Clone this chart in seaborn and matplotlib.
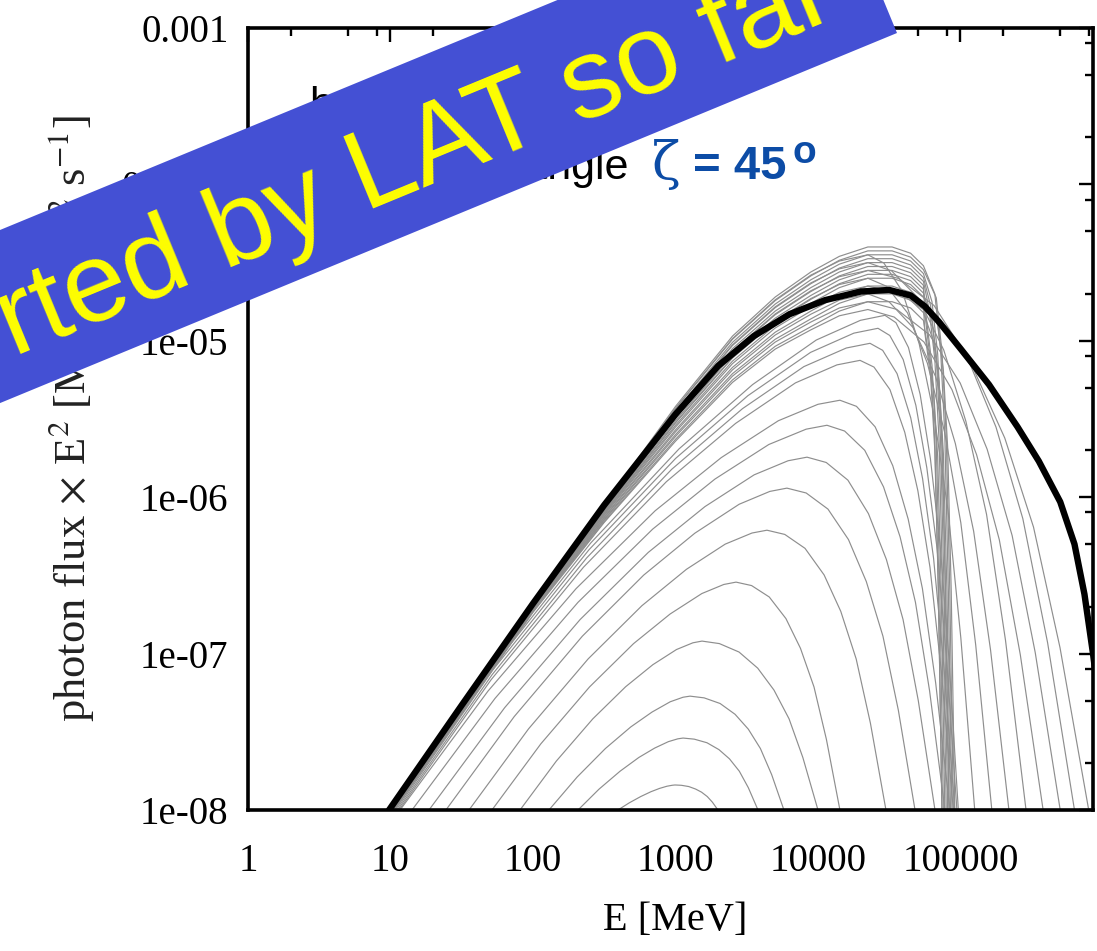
import numpy as np
import pandas as pd
import matplotlib
matplotlib.use("Agg")
import matplotlib.pyplot as plt
import seaborn as sns
from matplotlib.patches import Polygon
from matplotlib.ticker import FixedLocator, FixedFormatter, NullFormatter

# ---------------- data (in log10 units) ----------------
# thick black spectrum
BLACK_LOGE = [0.99, 1.5, 2.0, 2.5, 3.0, 3.3, 3.55, 3.8, 4.05, 4.3, 4.5, 4.65, 4.75,
              4.85, 5.0, 5.2, 5.4, 5.55, 5.7, 5.8, 5.87, 5.93, 6.0]
BLACK_LOGF = [-8.0, -7.33, -6.68, -6.05, -5.47, -5.16, -4.97, -4.83, -4.74, -4.685, -4.675,
              -4.71, -4.78, -4.88, -5.05, -5.28, -5.55, -5.77, -6.03, -6.30, -6.62, -7.0, -7.5]

# lower family of grey arcs
ARC_LOGE = [
    [2.596, 2.676, 2.756, 2.828, 2.888, 2.940, 2.976, 2.996, 3.041, 3.093, 3.141, 3.183, 3.223, 3.259, 3.298],
    [2.316, 2.463, 2.611, 2.743, 2.854, 2.950, 3.016, 3.053, 3.132, 3.221, 3.305, 3.379, 3.448, 3.511, 3.579],
    [2.112, 2.310, 2.508, 2.686, 2.835, 2.963, 3.053, 3.102, 3.201, 3.313, 3.418, 3.511, 3.596, 3.675, 3.761],
    [1.909, 2.164, 2.420, 2.650, 2.841, 3.007, 3.122, 3.186, 3.308, 3.446, 3.577, 3.691, 3.797, 3.894, 4.000],
    [1.712, 2.055, 2.397, 2.706, 2.962, 3.185, 3.339, 3.425, 3.534, 3.658, 3.775, 3.877, 3.972, 4.059, 4.154],
    [1.551, 1.969, 2.387, 2.764, 3.077, 3.349, 3.537, 3.642, 3.767, 3.909, 4.043, 4.160, 4.268, 4.368, 4.477],
    [1.389, 1.868, 2.346, 2.777, 3.136, 3.447, 3.662, 3.782, 3.917, 4.070, 4.214, 4.339, 4.456, 4.564, 4.681],
    [1.270, 1.801, 2.331, 2.809, 3.207, 3.552, 3.790, 3.923, 4.058, 4.210, 4.354, 4.480, 4.597, 4.704, 4.821],
    [1.151, 1.733, 2.316, 2.840, 3.277, 3.655, 3.917, 4.063, 4.187, 4.328, 4.460, 4.576, 4.684, 4.783, 4.891],
    [1.067, 1.684, 2.302, 2.857, 3.321, 3.722, 4.000, 4.154, 4.270, 4.401, 4.525, 4.633, 4.733, 4.826, 4.926],
    [1.060, 1.707, 2.354, 2.936, 3.422, 3.842, 4.133, 4.295, 4.393, 4.505, 4.609, 4.701, 4.786, 4.865, 4.950],
    [1.050, 1.713, 2.376, 2.973, 3.470, 3.901, 4.199, 4.365, 4.454, 4.555, 4.651, 4.734, 4.811, 4.883, 4.960],
    [1.040, 1.716, 2.392, 3.001, 3.508, 3.948, 4.252, 4.421, 4.504, 4.598, 4.687, 4.764, 4.837, 4.903, 4.975],
    [1.030, 1.718, 2.406, 3.025, 3.541, 3.988, 4.298, 4.470, 4.547, 4.635, 4.717, 4.789, 4.856, 4.918, 4.985],
]
ARC_LOGF = [
    [-8, -7.954, -7.914, -7.883, -7.862, -7.848, -7.842, -7.840, -7.842, -7.850, -7.866, -7.886, -7.914, -7.950, -8],
    [-8, -7.867, -7.752, -7.664, -7.604, -7.563, -7.545, -7.540, -7.547, -7.570, -7.614, -7.673, -7.752, -7.857, -8],
    [-8, -7.789, -7.607, -7.469, -7.374, -7.308, -7.279, -7.272, -7.283, -7.319, -7.388, -7.483, -7.607, -7.774, -8],
    [-8, -7.687, -7.417, -7.212, -7.071, -6.974, -6.931, -6.920, -6.936, -6.990, -7.093, -7.233, -7.417, -7.665, -8],
    [-8, -7.577, -7.213, -6.936, -6.747, -6.616, -6.558, -6.543, -6.565, -6.638, -6.776, -6.966, -7.213, -7.548, -8],
    [-8, -7.481, -7.034, -6.694, -6.461, -6.300, -6.229, -6.211, -6.238, -6.327, -6.497, -6.730, -7.034, -7.445, -8],
    [-8, -7.403, -6.889, -6.498, -6.230, -6.045, -5.963, -5.942, -5.973, -6.076, -6.271, -6.539, -6.889, -7.362, -8],
    [-8, -7.346, -6.782, -6.353, -6.060, -5.857, -5.767, -5.744, -5.778, -5.891, -6.105, -6.398, -6.782, -7.301, -8],
    [-8, -7.287, -6.672, -6.204, -5.884, -5.663, -5.565, -5.540, -5.577, -5.700, -5.934, -6.253, -6.672, -7.237, -8],
    [-8, -7.240, -6.585, -6.087, -5.747, -5.511, -5.406, -5.380, -5.419, -5.550, -5.799, -6.140, -6.585, -7.188, -8],
    [-8, -7.166, -6.448, -5.901, -5.528, -5.269, -5.154, -5.125, -5.168, -5.312, -5.585, -5.959, -6.448, -7.109, -8],
    [-8, -7.135, -6.389, -5.822, -5.434, -5.165, -5.046, -5.016, -5.061, -5.210, -5.493, -5.881, -6.389, -7.075, -8],
    [-8, -7.107, -6.337, -5.752, -5.351, -5.074, -4.951, -4.920, -4.966, -5.120, -5.413, -5.813, -6.337, -7.045, -8],
    [-8, -7.083, -6.292, -5.691, -5.280, -4.995, -4.869, -4.837, -4.884, -5.043, -5.343, -5.754, -6.292, -7.019, -8],
]

# dome curves that drop steeply near 100 GeV (the grey "wall")
WALL_LOGE = [
    [0.985, 2.0, 2.5, 3.0, 3.4, 3.7, 3.95, 4.15, 4.35, 4.52, 4.65, 4.74, 4.82, 4.86, 4.89, 4.915, 4.94],
    [0.990, 2.0, 2.5, 3.0, 3.4, 3.7, 3.95, 4.15, 4.35, 4.52, 4.65, 4.74, 4.80, 4.84, 4.87, 4.895, 4.92],
    [0.996, 2.0, 2.5, 3.0, 3.4, 3.7, 3.95, 4.15, 4.35, 4.52, 4.65, 4.74, 4.78, 4.82, 4.85, 4.875, 4.90],
    [1.002, 2.0, 2.5, 3.0, 3.4, 3.7, 3.95, 4.15, 4.35, 4.52, 4.65, 4.74, 4.76, 4.80, 4.83, 4.855, 4.88],
    [1.008, 2.0, 2.5, 3.0, 3.4, 3.7, 3.95, 4.15, 4.35, 4.52, 4.65, 4.74, 4.84, 4.88, 4.91, 4.935, 4.96],
    [1.013, 2.0, 2.5, 3.0, 3.4, 3.7, 3.95, 4.15, 4.35, 4.52, 4.65, 4.74, 4.75, 4.79, 4.82, 4.845, 4.87],
    [1.019, 2.0, 2.5, 3.0, 3.4, 3.7, 3.95, 4.15, 4.35, 4.52, 4.65, 4.74, 4.81, 4.85, 4.88, 4.905, 4.93],
    [1.025, 2.0, 2.5, 3.0, 3.4, 3.7, 3.95, 4.15, 4.35, 4.52, 4.65, 4.74, 4.77, 4.81, 4.84, 4.865, 4.89],
    [0.988, 2.0, 2.5, 3.0, 3.4, 3.7, 3.95, 4.15, 4.35, 4.52, 4.65, 4.74, 4.83, 4.87, 4.90, 4.925, 4.95],
    [0.993, 2.0, 2.5, 3.0, 3.4, 3.7, 3.95, 4.15, 4.35, 4.52, 4.65, 4.74, 4.79, 4.83, 4.86, 4.885, 4.91],
    [0.999, 2.0, 2.5, 3.0, 3.4, 3.7, 3.95, 4.15, 4.35, 4.52, 4.65, 4.74, 4.75, 4.79, 4.82, 4.845, 4.87],
    [1.005, 2.0, 2.5, 3.0, 3.4, 3.7, 3.95, 4.15, 4.35, 4.52, 4.65, 4.74, 4.80, 4.84, 4.87, 4.895, 4.92],
]
WALL_LOGF = [
    [-8, -6.680, -6.050, -5.420, -4.970, -4.720, -4.560, -4.460, -4.400, -4.400, -4.440, -4.520, -4.700, -5.050, -5.600, -6.6, -8],
    [-8, -6.688, -6.065, -5.450, -5.010, -4.765, -4.610, -4.510, -4.450, -4.450, -4.490, -4.570, -4.750, -5.085, -5.620, -6.6, -8],
    [-8, -6.695, -6.080, -5.480, -5.050, -4.810, -4.660, -4.560, -4.500, -4.500, -4.540, -4.620, -4.800, -5.120, -5.640, -6.6, -8],
    [-8, -6.703, -6.095, -5.510, -5.090, -4.855, -4.710, -4.610, -4.550, -4.550, -4.590, -4.670, -4.850, -5.155, -5.660, -6.6, -8],
    [-8, -6.710, -6.110, -5.540, -5.130, -4.900, -4.760, -4.660, -4.600, -4.600, -4.640, -4.720, -4.900, -5.190, -5.680, -6.6, -8],
    [-8, -6.718, -6.125, -5.570, -5.170, -4.945, -4.810, -4.710, -4.650, -4.650, -4.690, -4.770, -4.950, -5.225, -5.700, -6.6, -8],
    [-8, -6.725, -6.140, -5.600, -5.210, -4.990, -4.860, -4.760, -4.700, -4.700, -4.740, -4.820, -5.000, -5.260, -5.720, -6.6, -8],
    [-8, -6.733, -6.155, -5.630, -5.250, -5.035, -4.910, -4.810, -4.750, -4.750, -4.790, -4.870, -5.050, -5.295, -5.740, -6.6, -8],
    [-8, -6.684, -6.058, -5.435, -4.990, -4.743, -4.585, -4.485, -4.425, -4.425, -4.465, -4.545, -4.725, -5.068, -5.610, -6.6, -8],
    [-8, -6.691, -6.073, -5.465, -5.030, -4.788, -4.635, -4.535, -4.475, -4.475, -4.515, -4.595, -4.775, -5.103, -5.630, -6.6, -8],
    [-8, -6.699, -6.088, -5.495, -5.070, -4.833, -4.685, -4.585, -4.525, -4.525, -4.565, -4.645, -4.825, -5.138, -5.650, -6.6, -8],
    [-8, -6.706, -6.103, -5.525, -5.110, -4.878, -4.735, -4.635, -4.575, -4.575, -4.615, -4.695, -4.875, -5.173, -5.670, -6.6, -8],
]

# dome curves that fall off more gradually (between the wall and the black curve)
TAIL_LOGE = [
    [0.988, 2.0, 2.5, 3.0, 3.4, 3.7, 3.95, 4.15, 4.35, 4.4625, 4.590, 4.710, 4.815, 4.9125, 5.0025, 5.10],
    [0.993, 2.0, 2.5, 3.0, 3.4, 3.7, 3.95, 4.15, 4.35, 4.517, 4.705, 4.883, 5.038, 5.183, 5.316, 5.46],
    [0.999, 2.0, 2.5, 3.0, 3.4, 3.7, 3.95, 4.15, 4.35, 4.5675, 4.814, 5.046, 5.249, 5.4375, 5.6115, 5.80],
    [1.004, 2.0, 2.5, 3.0, 3.4, 3.7, 3.95, 4.15, 4.35, 4.4805, 4.628, 4.768, 4.889, 5.0025, 5.107, 5.22],
    [1.010, 2.0, 2.5, 3.0, 3.4, 3.7, 3.95, 4.15, 4.35, 4.5825, 4.846, 5.094, 5.311, 5.5125, 5.6985, 5.90],
    [1.016, 2.0, 2.5, 3.0, 3.4, 3.7, 3.95, 4.15, 4.35, 4.4985, 4.667, 4.825, 4.964, 5.0925, 5.211, 5.34],
    [1.021, 2.0, 2.5, 3.0, 3.4, 3.7, 3.95, 4.15, 4.35, 4.5525, 4.782, 4.998, 5.187, 5.3625, 5.5245, 5.70],
    [1.027, 2.0, 2.5, 3.0, 3.4, 3.7, 3.95, 4.15, 4.35, 4.5345, 4.744, 4.940, 5.113, 5.2725, 5.420, 5.58],
]
TAIL_LOGF = [
    [-8, -6.683, -6.056, -5.432, -4.986, -4.738, -4.580, -4.490, -4.450, -4.503, -4.681, -5.018, -5.480, -6.083, -6.900, -8],
    [-8, -6.691, -6.071, -5.462, -5.026, -4.783, -4.630, -4.540, -4.500, -4.553, -4.728, -5.060, -5.515, -6.110, -6.915, -8],
    [-8, -6.698, -6.086, -5.492, -5.066, -4.828, -4.680, -4.590, -4.550, -4.602, -4.774, -5.102, -5.551, -6.137, -6.931, -8],
    [-8, -6.706, -6.101, -5.522, -5.106, -4.873, -4.730, -4.640, -4.600, -4.651, -4.821, -5.144, -5.586, -6.164, -6.946, -8],
    [-8, -6.713, -6.116, -5.552, -5.146, -4.918, -4.780, -4.690, -4.650, -4.700, -4.868, -5.186, -5.622, -6.191, -6.962, -8],
    [-8, -6.721, -6.131, -5.582, -5.186, -4.963, -4.830, -4.740, -4.700, -4.750, -4.915, -5.228, -5.657, -6.218, -6.977, -8],
    [-8, -6.728, -6.146, -5.612, -5.226, -5.008, -4.880, -4.790, -4.750, -4.799, -4.961, -5.270, -5.693, -6.245, -6.993, -8],
    [-8, -6.736, -6.161, -5.642, -5.266, -5.053, -4.930, -4.840, -4.800, -4.848, -5.008, -5.312, -5.728, -6.272, -7.008, -8],
]

X_TICKS = [1, 10, 100, 1000, 10000, 100000]
X_TICK_LABELS = ["1", "10", "100", "1000", "10000", "100000"]
Y_TICKS = [1e-8, 1e-7, 1e-6, 1e-5, 1e-4, 1e-3]
Y_TICK_LABELS = ["1e-08", "1e-07", "1e-06", "1e-05", "0.0001", "0.001"]
MINOR_SUBS = [2, 5, 8]

X_LABEL = "E [MeV]"
Y_LABEL = r"photon flux $\times$ E$^{2}$ [MeV cm$^{-2}$ s$^{-1}$]"
NOTE_LINE1 = "b"
NOTE_LINE2 = "viewing angle"
NOTE_ZETA = "ζ"
NOTE_VALUE = "= 45"
NOTE_DEG = "o"
BANNER_TEXT = "rted by LAT so far"

# ---------------- long table for seaborn ----------------
rows = []
for fam, EE, FF in (("arc", ARC_LOGE, ARC_LOGF), ("wall", WALL_LOGE, WALL_LOGF),
                    ("tail", TAIL_LOGE, TAIL_LOGF)):
    for i, (le, lf) in enumerate(zip(EE, FF)):
        for a, b in zip(le, lf):
            rows.append({"curve": f"{fam}{i}", "E": 10.0 ** a, "F": 10.0 ** b})
grey = pd.DataFrame(rows)
black = pd.DataFrame({"E": 10.0 ** np.array(BLACK_LOGE), "F": 10.0 ** np.array(BLACK_LOGF)})

# ---------------- figure ----------------
sns.set_theme(style="white")
plt.rcParams["font.family"] = ["Liberation Serif", "DejaVu Serif"]
plt.rcParams["mathtext.fontset"] = "stix"

W, H = 1097, 951
fig = plt.figure(figsize=(W / 100, H / 100), dpi=100)
fig.patch.set_facecolor("white")
ax = fig.add_axes([248 / W, 141 / H, 845 / W, 782 / H])
ax.set_facecolor("white")
ax.set_xscale("log")
ax.set_yscale("log")

sns.lineplot(data=grey, x="E", y="F", units="curve", estimator=None, sort=False,
             color="#8e8e8e", linewidth=0.85, ax=ax, zorder=2)
sns.lineplot(data=black, x="E", y="F", estimator=None, sort=False,
             color="black", linewidth=4.6, ax=ax, zorder=3)

ax.set_xlim(1, 10 ** 5.93)
ax.set_ylim(1e-8, 1e-3)

ax.xaxis.set_major_locator(FixedLocator(X_TICKS))
ax.xaxis.set_major_formatter(FixedFormatter(X_TICK_LABELS))
ax.yaxis.set_major_locator(FixedLocator(Y_TICKS))
ax.yaxis.set_major_formatter(FixedFormatter(Y_TICK_LABELS))
xmin = [m * 10.0 ** d for d in range(0, 6) for m in MINOR_SUBS]
ymin = [m * 10.0 ** d for d in range(-8, -3) for m in MINOR_SUBS]
ax.xaxis.set_minor_locator(FixedLocator(xmin))
ax.yaxis.set_minor_locator(FixedLocator(ymin))
ax.xaxis.set_minor_formatter(NullFormatter())
ax.yaxis.set_minor_formatter(NullFormatter())

ax.tick_params(which="both", direction="in", top=True, right=True, width=1.7, color="black")
ax.tick_params(which="major", length=10)
ax.tick_params(which="minor", length=6)
ax.tick_params(axis="x", which="major", pad=24, labelsize=28, labelcolor="black")
ax.tick_params(axis="y", which="major", pad=14, labelsize=28, labelcolor="black")
for sp in ax.spines.values():
    sp.set_linewidth(2.6)
    sp.set_color("black")

ax.set_xlabel(X_LABEL, fontsize=29, color="black")
ax.xaxis.set_label_coords(0.505, -0.118)
ax.set_ylabel(Y_LABEL, fontsize=32, color="#222222")
ax.yaxis.set_label_coords(-0.18, 0.50)

# ---------------- annotation ----------------
BLUE = "#0c4ca6"
def fx(x):
    return x / W
def fy(y):
    return 1 - y / H

fig.text(fx(309), fy(117), NOTE_LINE1, fontsize=31, family="Liberation Sans",
         va="baseline", ha="left", color="black", zorder=5)
fig.text(fx(629), fy(179), NOTE_LINE2, fontsize=31, family="Liberation Sans",
         va="baseline", ha="right", color="black", zorder=5)
fig.text(fx(652), fy(179), NOTE_ZETA, fontsize=38, family="DejaVu Serif",
         va="baseline", ha="left", color=BLUE, zorder=5)
fig.text(fx(693), fy(179), NOTE_VALUE, fontsize=34, family="Liberation Sans",
         fontweight="bold", va="baseline", ha="left", color=BLUE, zorder=5)
fig.text(fx(792), fy(163), NOTE_DEG, fontsize=28, family="Liberation Sans",
         fontweight="bold", va="baseline", ha="left", color=BLUE, zorder=5)

# ---------------- diagonal banner ----------------
ang = np.deg2rad(22.42)
u = np.array([np.cos(ang), np.sin(ang)])
p = np.array([-np.sin(ang), np.cos(ang)])
br = np.array([897.0, H - 33.0])
length, thick = 1500.0, 160.0
corners = np.array([br, br + p * thick, br + p * thick - u * length, br - u * length])
corners = corners / np.array([W, H])
banner = Polygon(corners, closed=True, transform=fig.transFigure,
                 facecolor="#4450d4", edgecolor="none", zorder=10)
fig.add_artist(banner)
fig.text(fx(427), fy(186), BANNER_TEXT, rotation=22.42, rotation_mode="anchor",
         ha="center", va="baseline", fontsize=82, color="#ffff00",
         family="Liberation Sans", zorder=11)

fig.savefig("out.png", dpi=100, facecolor="white")
